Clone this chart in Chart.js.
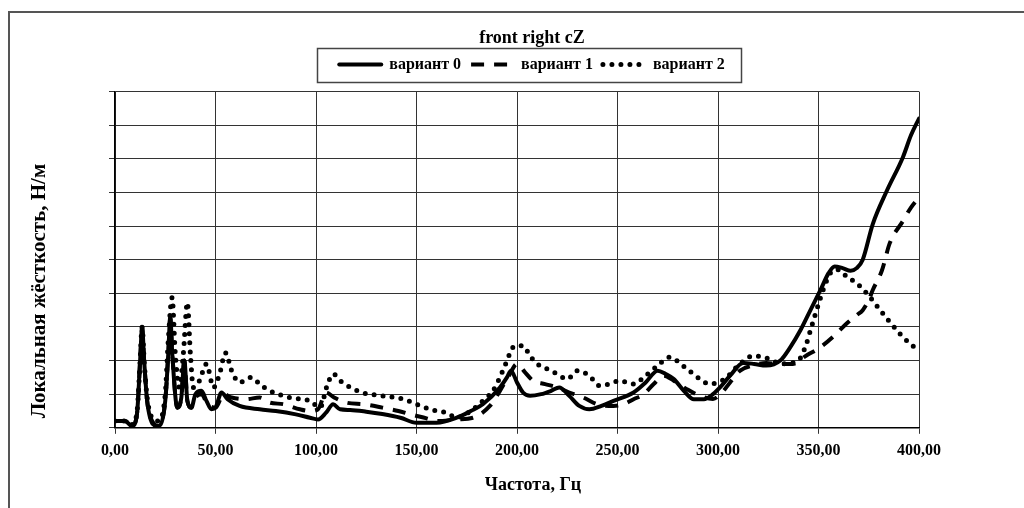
<!DOCTYPE html>
<html><head><meta charset="utf-8">
<script src="https://cdn.jsdelivr.net/npm/chart.js@4.4.0/dist/chart.umd.min.js"></script>
<style>html,body{margin:0;padding:0;background:#fff;}canvas{display:block;}</style>
</head><body>
<canvas id="c" width="1024" height="508"></canvas>
<script>
const chartTitle = 'front right cZ';
const seriesNames = ['вариант 0', 'вариант 1', 'вариант 2'];
const xAxisTitle = 'Частота, Гц';
const yAxisTitle = 'Локальная жёсткость, Н/м';
const xTickValues = [0, 50, 100, 150, 200, 250, 300, 350, 400];

const freq0 = [0,5,8.5,11,12.5,13.5,14.5,16,19,21.5,25,26.5,27.5,28.5,31,33,34.5,36,38,40,43,45.5,48,50,53,56,62,72,80,90,97,101,105,108.5,112,117,125,133,142,150,160,170,177,183,191.5,195,197,200,203,206.5,212,217,221,226,231,236,242,248,258,264,270,274,278,283,288,293,297.5,301,306,312.5,318,324,331,336,341,346,351,355,358,362,366,369,372,377,384,392,396,400];
const stiff0 = [0.2,0.2,0.05,0.45,2.0,3.0,2.0,0.8,0.1,0.05,0.8,2.2,3.3,2.2,0.6,0.9,2.0,0.8,0.6,1.0,1.1,0.8,0.55,0.6,1.05,0.85,0.65,0.55,0.5,0.4,0.3,0.25,0.45,0.7,0.55,0.53,0.48,0.41,0.3,0.15,0.15,0.3,0.5,0.7,1.2,1.5,1.7,1.35,1.05,0.95,1.0,1.1,1.2,0.95,0.65,0.55,0.65,0.8,1.05,1.35,1.7,1.6,1.45,1.1,0.85,0.85,1.0,1.2,1.55,1.93,1.9,1.85,2.0,2.4,2.9,3.5,4.1,4.6,4.8,4.75,4.67,4.75,5.0,6.06,7.05,8.05,8.7,9.2];

const freq1 = [0,5,8.5,11,12.5,13.5,14.5,16,19,21.5,25,26.5,27.5,28.5,31,33,34.5,36,38,40,43,46,50,54,58,65,72,77,84,92,97,101,105,109,115,124,133,141,147,155,160,170,178,186.5,191.5,196,200,204,208,214,220,226,233,240,248,253,258,263,268,273,278,284.5,291,297.5,302,306,311,317,324,330,337,344,351,358,364,369,372,375,377,381.5,385.5,392,396,400];
const stiff1 = [0.2,0.2,0.05,0.45,2.0,2.95,2.0,0.8,0.15,0.05,0.8,2.2,3.25,2.2,0.6,0.9,2.0,0.8,0.6,0.9,1.0,0.7,0.6,1.0,0.9,0.85,0.9,0.75,0.7,0.55,0.5,0.55,1.05,0.9,0.75,0.7,0.6,0.5,0.4,0.28,0.2,0.25,0.3,0.65,1.1,1.55,1.9,1.65,1.4,1.3,1.2,1.05,0.9,0.7,0.65,0.7,0.85,1.0,1.3,1.55,1.4,1.15,0.95,0.86,1.05,1.35,1.7,1.85,1.93,1.9,1.9,2.15,2.4,2.75,3.1,3.35,3.5,3.8,4.1,4.67,5.5,6.15,6.55,6.85];

const freq2 = [0,5,8.5,11,12.5,13.5,14.5,16,19,21.5,25,26.5,28.4,30,32,34,36,37.5,39,42,45.5,49,52,55,58,62,68,72,77,87,97,102,105.5,108.5,113,123,133,143,153,160,165,170,177,183,188,191.5,194,199,203,206.5,210,215,220,225,230,236,241,246,251,258,264,270,276,282.5,291,296,300,304.5,307.5,312,317.5,324,329,334,338,341,344,346,351,354,357,360,364,369,374,380,384,390.5,395.5,400];
const stiff2 = [0.2,0.2,0.1,0.5,2.0,3.0,2.0,0.9,0.25,0.2,1.0,2.6,3.87,2.2,1.2,2.2,3.72,2.2,1.2,1.4,1.9,1.2,1.6,2.23,1.7,1.35,1.5,1.3,1.1,0.9,0.8,0.6,1.25,1.6,1.35,1.05,0.95,0.86,0.63,0.5,0.45,0.3,0.5,0.8,1.1,1.5,1.85,2.44,2.44,2.14,1.9,1.75,1.6,1.45,1.7,1.55,1.25,1.3,1.4,1.3,1.55,1.85,2.1,1.85,1.45,1.3,1.35,1.5,1.7,1.95,2.14,2.08,1.95,1.9,1.95,2.08,2.5,2.9,3.87,4.37,4.67,4.7,4.5,4.3,4.0,3.55,3.25,2.8,2.5,2.3];

const toPts = (xs, ys) => xs.map((x, i) => ({x: x, y: ys[i]}));
const serif = "'Liberation Serif', 'Times New Roman', serif";

const decorPlugin = {
  id: 'decor',
  afterLayout(chart) {
    const dx = 18;
    if (chart.titleBlock) { chart.titleBlock.left += dx; chart.titleBlock.right += dx; }
    if (chart.legend) { chart.legend.left += dx; chart.legend.right += dx; chart.legend.top -= 9; chart.legend.bottom -= 9; }
  },
  beforeDraw(chart) {
    const ctx = chart.ctx;
    ctx.save();
    ctx.fillStyle = '#fff';
    ctx.fillRect(0, 0, chart.width, chart.height);
    ctx.strokeStyle = '#555';
    ctx.lineWidth = 2;
    ctx.strokeRect(9, 12, 1040, 540);
    ctx.restore();
  },
  afterDraw(chart) {
    const ctx = chart.ctx;
    ctx.save();
    const hb = chart.legend.legendHitBoxes;
    if (hb && hb.length) {
      const l = hb[0].left - 22, r = hb[hb.length - 1].left + hb[hb.length - 1].width + 16;
      const t = hb[0].top - 9, b = hb[0].top + hb[0].height + 9;
      ctx.strokeStyle = '#444';
      ctx.lineWidth = 1.5;
      ctx.strokeRect(Math.round(l) + 0.5, Math.round(t) + 0.5, Math.round(r - l), Math.round(b - t));
    }
    ctx.fillStyle = '#000';
    ctx.textAlign = 'center';
    ctx.textBaseline = 'middle';
    ctx.font = 'bold 18px ' + serif;
    ctx.fillText(xAxisTitle, 533, 485);
    ctx.translate(40, 291);
    ctx.rotate(-Math.PI / 2);
    ctx.font = 'bold 21px ' + serif;
    ctx.fillText(yAxisTitle, 0, 0);
    ctx.restore();
  }
};

new Chart(document.getElementById('c'), {
  type: 'line',
  data: {
    datasets: [
      {label: seriesNames[0], data: toPts(freq0, stiff0), borderColor: '#000', backgroundColor: '#000', borderWidth: 4, borderCapStyle: 'round', borderJoinStyle: 'round', pointRadius: 0, cubicInterpolationMode: 'monotone'},
      {label: seriesNames[1], data: toPts(freq1, stiff1), borderColor: '#000', backgroundColor: '#000', borderWidth: 4, borderDash: [13, 10], borderCapStyle: 'butt', pointRadius: 0, cubicInterpolationMode: 'monotone'},
      {label: seriesNames[2], data: toPts(freq2, stiff2), borderColor: '#000', backgroundColor: '#000', borderWidth: 5, borderDash: [0, 9], borderCapStyle: 'round', pointRadius: 0, cubicInterpolationMode: 'monotone'}
    ]
  },
  options: {
    responsive: false,
    animation: false,
    devicePixelRatio: 1,
    layout: {padding: {left: 109, right: 105, top: 20, bottom: 41}},
    scales: {
      x: {
        type: 'linear', min: 0, max: 400,
        afterBuildTicks: (s) => { s.ticks = xTickValues.map(v => ({value: v})); },
        ticks: {color: '#000', font: {family: serif, size: 16, weight: 'bold'}, padding: 7, maxRotation: 0,
          callback: (v) => Number(v).toFixed(2).replace('.', ',')},
        grid: {color: '#333', lineWidth: 1, tickLength: 6, tickColor: '#333'},
        border: {color: '#000', width: 1.5}
      },
      y: {
        min: 0, max: 10,
        ticks: {display: false, stepSize: 1},
        grid: {color: '#333', lineWidth: 1, tickLength: 6, tickColor: '#333'},
        border: {color: '#000', width: 1.5}
      }
    },
    plugins: {
      title: {display: true, text: chartTitle, color: '#000', font: {family: serif, size: 18, weight: 'bold'}, padding: {top: 8, bottom: 6}},
      legend: {
        display: true, position: 'top',
        labels: {
          usePointStyle: true, pointStyleWidth: 42, padding: 10, color: '#000',
          font: {family: serif, size: 16, weight: 'bold'},
          generateLabels: (chart) => chart.data.datasets.map((ds, i) => ({
            text: ds.label, fillStyle: ds.borderColor, strokeStyle: ds.borderColor,
            lineWidth: ds.borderWidth, lineDash: ds.borderDash || [], lineCap: ds.borderCapStyle || 'butt',
            pointStyle: 'line', hidden: false, datasetIndex: i, fontColor: '#000'
          }))
        }
      },
      tooltip: {enabled: false}
    }
  },
  plugins: [decorPlugin]
});
</script>
</body></html>
